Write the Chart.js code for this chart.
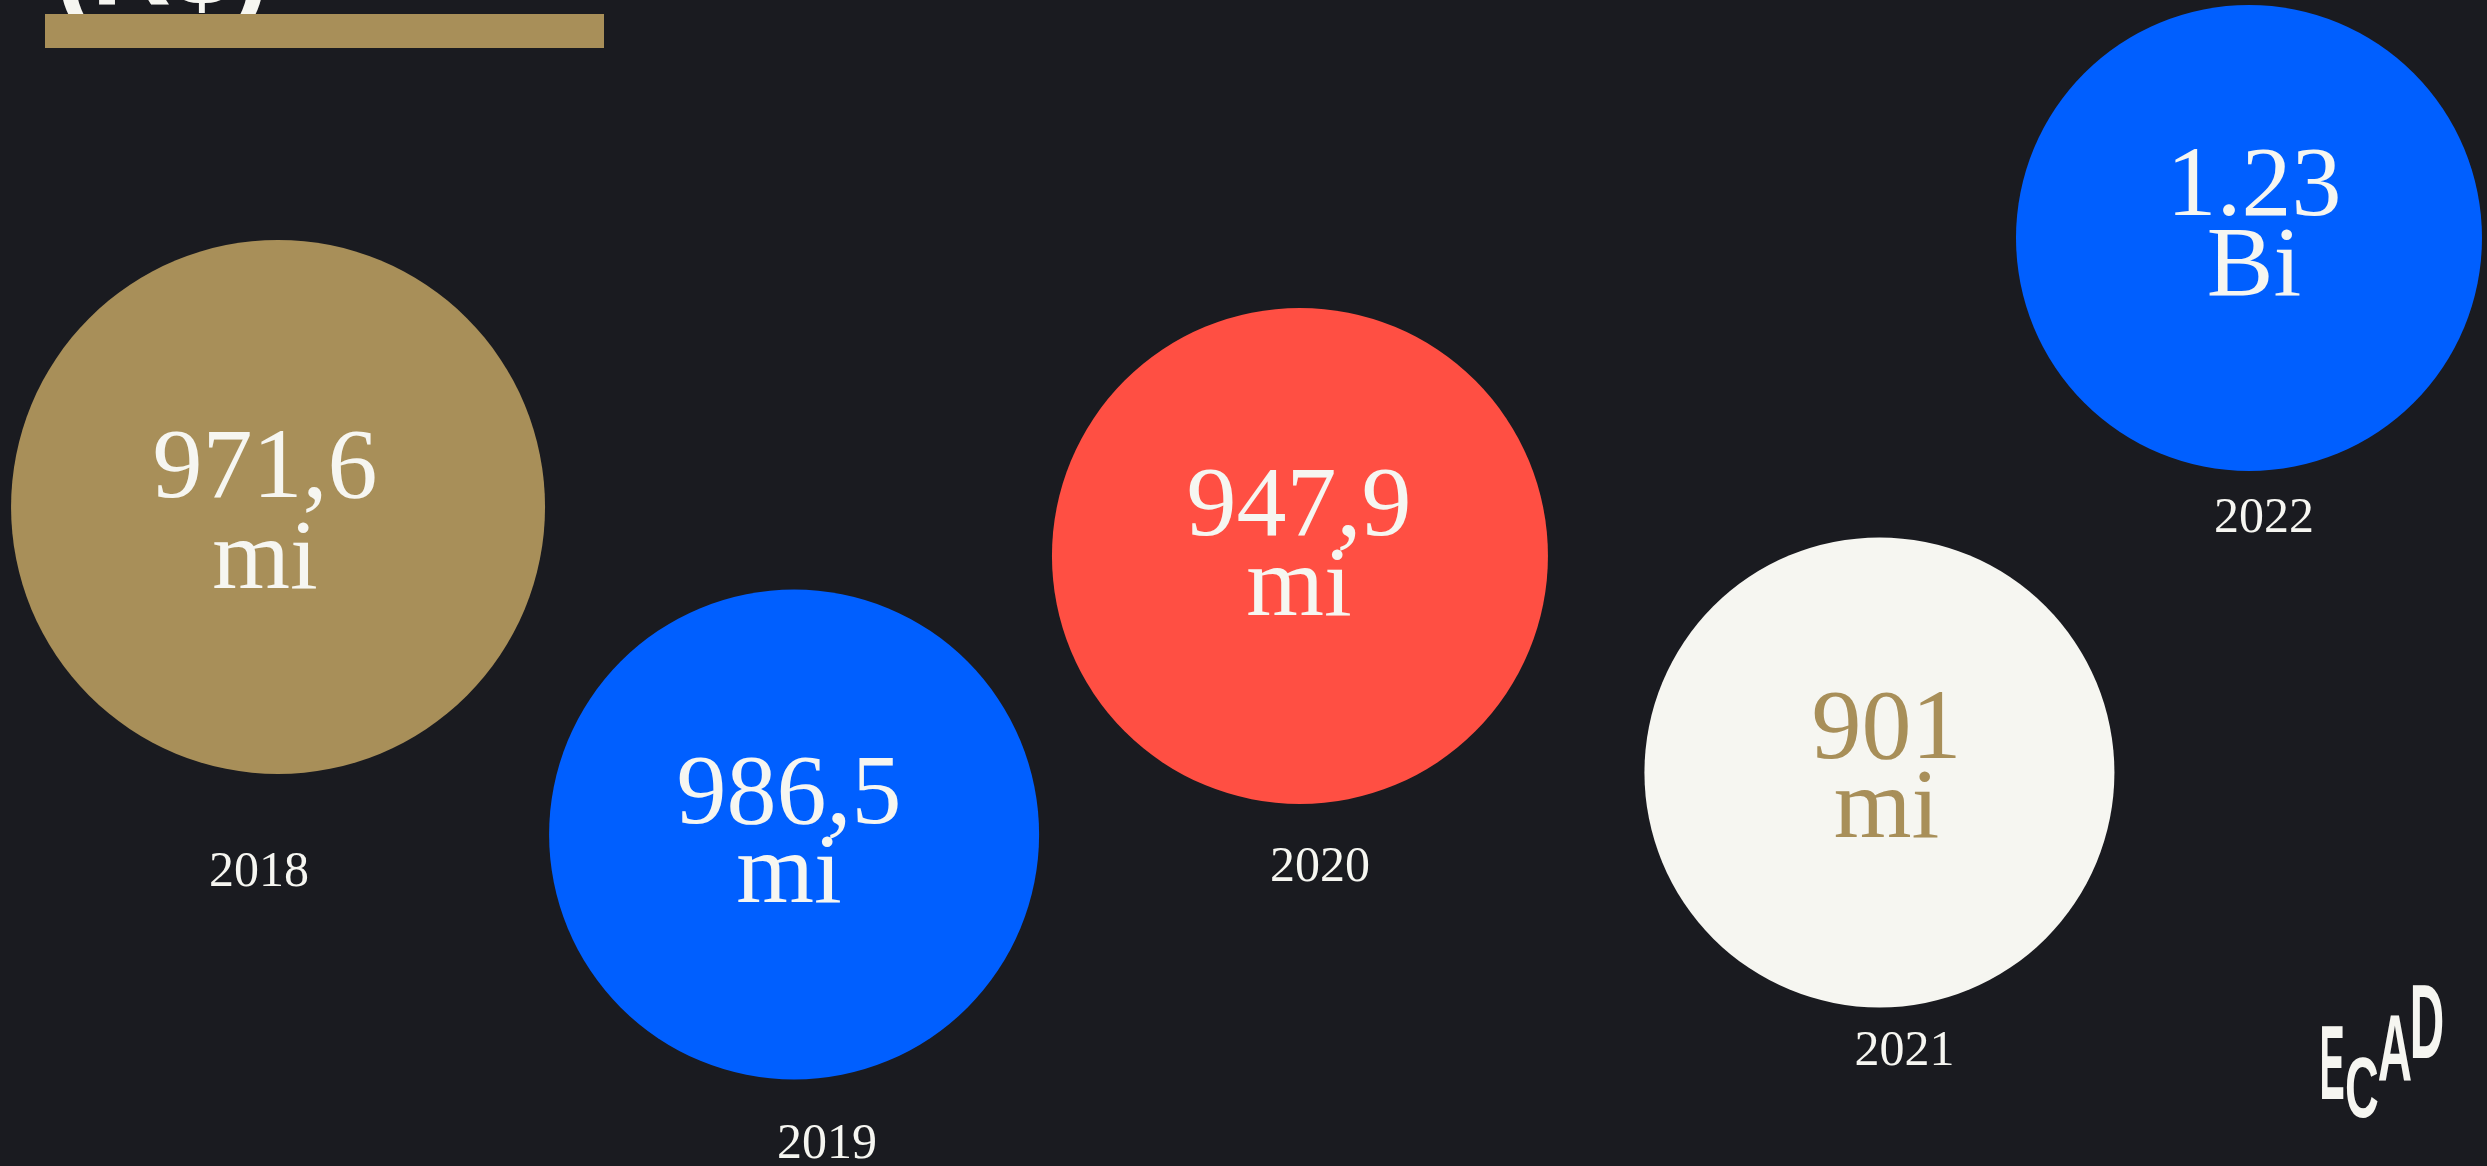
<!DOCTYPE html>
<html lang="pt-BR">
<head>
<meta charset="utf-8">
<title>Arrecadação ECAD (R$)</title>
<script src="https://cdn.jsdelivr.net/npm/chart.js@4.4.1/dist/chart.umd.min.js"></script>
<style>
	html, body { margin: 0; padding: 0; background: #1a1b20; overflow: hidden; }
	#wrap { position: relative; width: 2487px; height: 1166px; }
</style>
</head>
<body>
<div id="wrap"><canvas id="ecadChart" width="2487" height="1166"></canvas></div>
<script>
const years = ["2018", "2019", "2020", "2021", "2022"];
const collected = [971.6, 986.5, 947.9, 901, 1230]; // R$ milhões

// layout only, the circles are placed freely on the page (x/y in % of the page, radius in px)
const posX = [11.18, 31.93, 52.27, 75.57, 90.43];
const posY = [43.48, 71.57, 47.68, 66.25, 20.41];
const radius = [267, 245, 248, 235, 233];

const fillColors = ["#a88f59", "#005fff", "#ff4f43", "#f6f6f1", "#005fff"];
const textColors = ["#f6f6f1", "#f6f6f1", "#f6f6f1", "#a88f59", "#f6f6f1"];

// label nudges: value text (dx, baseline of both lines) and year text (dx, baseline below circle)
const valueOffsets = [
	{ dx: -13, b1: -10, b2: 81 },
	{ dx: -5, b1: -12, b2: 67 },
	{ dx: -1, b1: -21, b2: 59 },
	{ dx: 7, b1: -14, b2: 65 },
	{ dx: 5, b1: -23, b2: 57 },
];
const yearOffsets = [
	{ dx: -19, gap: 112 },
	{ dx: 33, gap: 78 },
	{ dx: 20, gap: 77 },
	{ dx: 25, gap: 58 },
	{ dx: 15, gap: 61 },
];

function formatValue(v) {
	if (v >= 1000) {
		return [(v / 1000).toFixed(2), "Bi"];
	}
	let txt = Number.isInteger(v) ? String(v) : v.toFixed(1).replace(".", ",");
	return [txt, "mi"];
}

const bubbleText = {
	id: "bubbleText",
	afterDatasetsDraw(chart) {
		const ctx = chart.ctx;
		const meta = chart.getDatasetMeta(0);
		meta.data.forEach((pt, i) => {
			const lines = formatValue(collected[i]);
			const off = valueOffsets[i];
			const r = pt.options.radius;
			ctx.save();
			ctx.textAlign = "center";
			ctx.textBaseline = "alphabetic";
			ctx.fillStyle = textColors[i];
			ctx.font = "100px 'Liberation Serif'";
			ctx.fillText(lines[0], pt.x + off.dx, pt.y + off.b1);
			ctx.fillText(lines[1], pt.x + off.dx, pt.y + off.b2);

			ctx.fillStyle = "#f6f6f1";
			ctx.font = "50px 'Liberation Serif'";
			ctx.fillText(years[i], pt.x + yearOffsets[i].dx, pt.y + r + yearOffsets[i].gap);
			ctx.restore();
		});
	}
};

const pageDecor = {
	id: "pageDecor",
	beforeDatasetsDraw(chart) {
		const ctx = chart.ctx;
		ctx.save();
		// title is cut off at the top of the picture, only its last line peeks out
		ctx.fillStyle = "#f6f6f1";
		ctx.font = "bold 110px 'Liberation Sans'";
		ctx.textAlign = "left";
		ctx.textBaseline = "alphabetic";
		ctx.fillText("(R$)", 55, 5);
		ctx.fillStyle = "#a88f59";
		ctx.fillRect(45, 14, 559, 34);
		ctx.restore();
	},
	afterDraw(chart) {
		const ctx = chart.ctx;
		const letters = [
			["E", 2332, 1099, 105, 0.36],
			["C", 2362, 1117, 85, 0.55],
			["A", 2395, 1081, 95, 0.5],
			["D", 2427, 1058, 106, 0.45],
		];
		ctx.save();
		ctx.fillStyle = "#f6f6f1";
		ctx.textAlign = "center";
		ctx.textBaseline = "alphabetic";
		letters.forEach(([ch, x, y, size, sx]) => {
			ctx.save();
			ctx.translate(x, y);
			ctx.scale(sx, 1);
			ctx.font = "bold " + size + "px 'Liberation Sans'";
			ctx.fillText(ch, 0, 0);
			ctx.restore();
		});
		ctx.restore();
	}
};

const ctx = document.getElementById("ecadChart").getContext("2d");
new Chart(ctx, {
	type: "bubble",
	data: {
		labels: years,
		datasets: [
			{
				label: "Arrecadação (R$)",
				data: years.map((y, i) => ({ x: posX[i], y: posY[i], r: radius[i] })),
				backgroundColor: fillColors,
				borderWidth: 0,
				hoverRadius: 0,
				clip: false,
			},
		],
	},
	options: {
		responsive: false,
		animation: false,
		events: [],
		layout: { padding: 0, autoPadding: false },
		plugins: {
			legend: { display: false },
			tooltip: { enabled: false },
			title: { display: false },
		},
		scales: {
			x: { type: "linear", min: 0, max: 100, display: false },
			y: { type: "linear", min: 0, max: 100, reverse: true, display: false },
		},
	},
	plugins: [pageDecor, bubbleText],
});
</script>
</body>
</html>
